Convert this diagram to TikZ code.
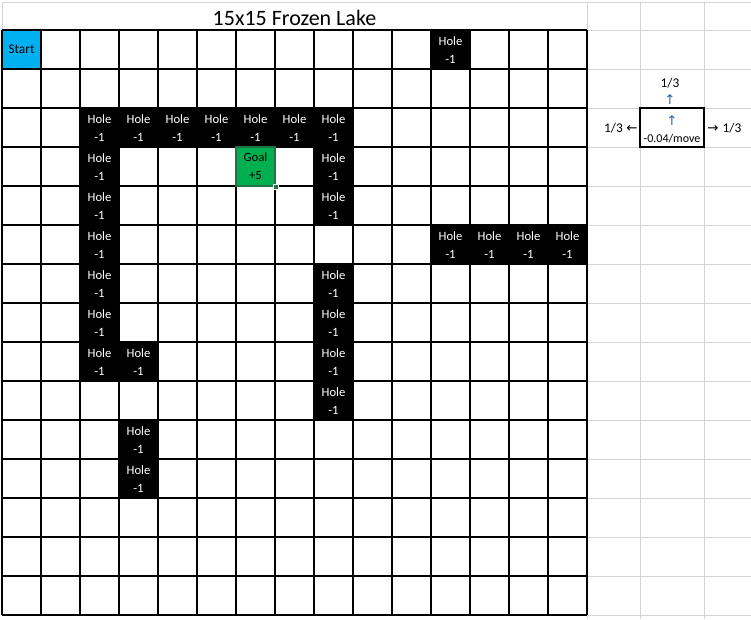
\documentclass[tikz,border=0pt]{standalone}
\usepackage{fontspec}
\setmainfont{Carlito}
\newfontfamily\arrowfont{DejaVu Sans}
\definecolor{gridgray}{RGB}{212,212,212}
\definecolor{startblue}{RGB}{0,176,240}
\definecolor{goalgreen}{RGB}{0,176,80}
\definecolor{selgreen}{RGB}{33,115,70}
\definecolor{arrowblue}{RGB}{40,100,180}
\begin{document}
\begin{tikzpicture}[x=0.75pt,y=-0.75pt,
  graygrid/.style={gridgray,line width=0.75pt},
  blackgrid/.style={black,line width=0.9pt},
  cell/.style={minimum width=29.25pt,minimum height=29.25pt,inner sep=0pt,align=center,
    font=\fontsize{9.5}{13.5}\selectfont},
  hole/.style={cell,fill=black,text=white},
  startcell/.style={cell,fill=startblue,text=black,font=\fontsize{10}{12}\selectfont},
  goalcell/.style={cell,fill=goalgreen,draw=selgreen,line width=1.6pt,text=black},
  handle/.style={fill=selgreen,draw=white,line width=0.5pt,minimum size=4pt,inner sep=0pt},
  lbl/.style={inner sep=0pt,font=\fontsize{10}{12}\selectfont},
  arr/.style={inner sep=0pt,font=\arrowfont\fontsize{10}{12}\selectfont},
  costbox/.style={draw=black,line width=1.5pt,minimum width=48pt,minimum height=29.25pt,inner sep=0pt}
]
\useasboundingbox (0,0) rectangle (751,619);
\fill[white] (0,0) rectangle (751,619);
% light spreadsheet gridlines
\draw[graygrid] (2,2) -- (751,2);
\draw[graygrid] (2,2) -- (2,30);
\foreach \x in {587,640,704} \draw[graygrid] (\x,2) -- (\x,619);
\foreach \j in {0,...,15} \draw[graygrid] (587,{30+39*\j}) -- (751,{30+39*\j});
% title
\node[inner sep=0pt,font=\fontsize{16.5}{20}\selectfont] (title) at (294.5,18) {15x15 Frozen Lake};
% start
\node[startcell] (start) at (21.5,49.5) {Start};
% holes
\foreach \c/\r [count=\n] in {11/0, 2/2,3/2,4/2,5/2,6/2,7/2,8/2, 2/3,8/3, 2/4,8/4,
  2/5,11/5,12/5,13/5,14/5, 2/6,8/6, 2/7,8/7, 2/8,3/8,8/8, 8/9, 3/10, 3/11}
  \node[hole] (hole\n) at ({2+39*\c+19.5},{30+39*\r+20}) {Hole\\-1};
% black grid
\foreach \i in {0,...,15} \draw[blackgrid] ({2+39*\i},30) -- ({2+39*\i},615);
\foreach \j in {0,...,15} \draw[blackgrid] (2,{30+39*\j}) -- (587,{30+39*\j});
% goal
\node[goalcell] (goal) at (255.5,166.5) {Goal\\+5};
\node[handle] (goalhandle) at (goal.south east) {};
% move model
\node[costbox] (box) at (672,127.5) {};
\node[arr,text=arrowblue] (upin) at (672,121) {↑};
\node[lbl,font=\fontsize{9}{10}\selectfont] (cost) at (672,139) {-0.04/move};
\node[lbl] (pup) at (670,83) {1/3};
\node[arr,text=arrowblue] (upout) at (670,99.5) {↑};
\node[lbl] (pleft) at (613.5,128) {1/3};
\node[arr] (leftarr) at (632,128.5) {←};
\node[arr] (rightarr) at (713,128.5) {→};
\node[lbl] (pright) at (732,128) {1/3};
\end{tikzpicture}
\end{document}
